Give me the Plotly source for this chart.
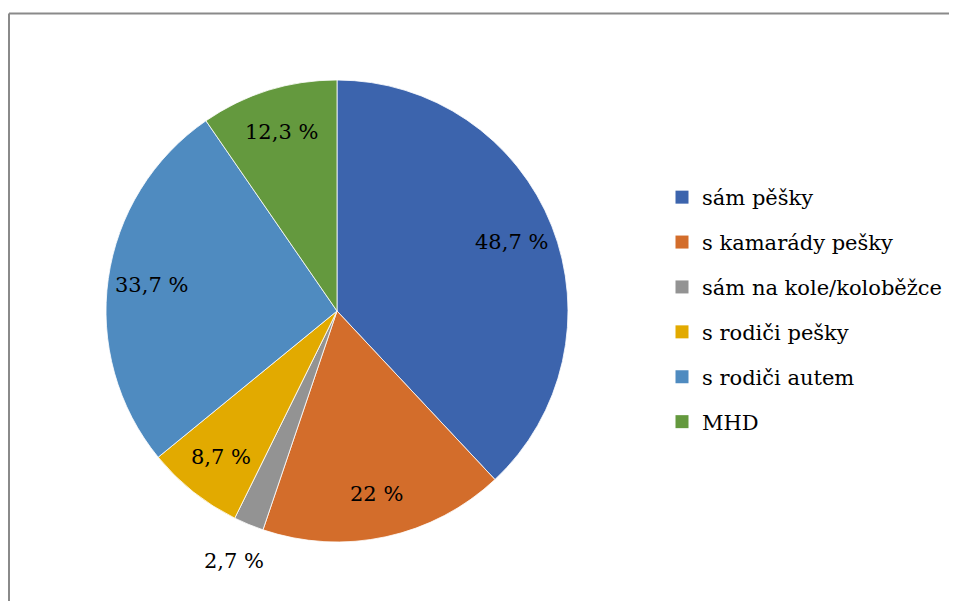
import math
import plotly.graph_objects as go

labels = ["sám pěšky", "s kamarády pešky", "sám na kole/koloběžce",
          "s rodiči pešky", "s rodiči autem", "MHD"]
values = [48.7, 22, 2.7, 8.7, 33.7, 12.3]
value_text = ["48,7 %", "22 %", "2,7 %", "8,7 %", "33,7 %", "12,3 %"]
colors = ["#3C64AD", "#D36D2B", "#939393", "#E2AA00", "#4F8BC0", "#64993E"]

W, H = 957, 601
FONT = "DejaVu Serif"
FS = 21

# pie geometry (layout pixels)
CX, CY, R = 329, 303, 231

fig = go.Figure()
fig.add_trace(go.Pie(
    labels=labels, values=values, text=value_text,
    textinfo="none", sort=False, direction="clockwise", rotation=0,
    marker=dict(colors=colors, line=dict(color="white", width=0.8)),
    showlegend=False, hoverinfo="label+text",
    domain=dict(x=[(CX - R) / W, (CX + R) / W], y=[1 - (CY + R) / H, 1 - (CY - R) / H]),
))

# data labels placed at each slice's mid-angle (computed from the values)
total = sum(values)
annotations = []
cum = 0.0
for v, t in zip(values, value_text):
    mid = (cum + v / 2) / total * 2 * math.pi
    cum += v
    frac = 0.81 if v / total > 0.04 else 1.17
    px = CX + math.sin(mid) * R * frac
    py = CY - math.cos(mid) * R * frac
    annotations.append(dict(
        x=px / W, y=1 - py / H, xref="paper", yref="paper", text=t,
        showarrow=False, xanchor="center", yanchor="middle",
        font=dict(family=FONT, size=FS, color="black"),
    ))

# legend entries (one per category, so entries can be spaced like the original)
for lab, col in zip(labels, colors):
    fig.add_trace(go.Scatter(
        x=[None], y=[None], mode="markers", name=lab, legendgroup=lab,
        marker=dict(symbol="square", size=13, color=col),
    ))

fig.update_layout(
    width=W, height=H,
    margin=dict(l=0, r=0, t=0, b=0),
    paper_bgcolor="white", plot_bgcolor="white",
    font=dict(family=FONT),
    xaxis=dict(visible=False), yaxis=dict(visible=False),
    annotations=annotations,
    legend=dict(x=654 / W, y=1 - 169 / H, xanchor="left", yanchor="top",
                font=dict(family=FONT, size=FS, color="black"),
                tracegroupgap=14.6, bgcolor="rgba(0,0,0,0)"),
    shapes=[
        dict(type="line", xref="paper", yref="paper",
             x0=1 / W, x1=1.01, y0=1 - 5.5 / H, y1=1 - 5.5 / H,
             line=dict(color="#8a8a8a", width=2)),
        dict(type="line", xref="paper", yref="paper",
             x0=1 / W, x1=1 / W, y0=-0.01, y1=1 - 5.5 / H,
             line=dict(color="#8a8a8a", width=2)),
    ],
)

fig.write_html("out.html")
